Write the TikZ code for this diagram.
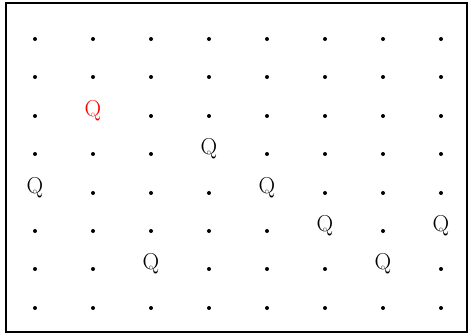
\documentclass[tikz,border=0pt]{standalone}
\begin{document}
\begin{tikzpicture}[x=1pt,y=-1pt,
  dotmark/.style={circle,fill=black,inner sep=0pt,minimum size=4pt},
  queen/.style={inner sep=0pt,font=\fontsize{23}{23}\selectfont,anchor=base,yshift=-1pt}]
\useasboundingbox (0,0) rectangle (472,336);
\draw[line width=1.3pt] (6,3) rectangle (467,332);
\foreach \r/\yy in {1/39,2/77,3/116,4/154,5/193,6/231,7/269,8/308}{
  \foreach \c/\xx in {1/35,2/93,3/151,4/209,5/267,6/325,7/383,8/441}{
    \coordinate (p\r-\c) at (\xx,\yy);
  }
}
\foreach \r/\c in {1/1,1/2,1/3,1/4,1/5,1/6,1/7,1/8,
                  2/1,2/2,2/3,2/4,2/5,2/6,2/7,2/8,
                  3/1,3/3,3/4,3/5,3/6,3/7,3/8,
                  4/1,4/2,4/3,4/5,4/6,4/7,4/8,
                  5/2,5/3,5/4,5/6,5/7,5/8,
                  6/1,6/2,6/3,6/4,6/5,6/7,
                  7/1,7/2,7/4,7/5,7/6,7/8,
                  8/1,8/2,8/3,8/4,8/5,8/6,8/7,8/8}{
  \node[dotmark] (d\r-\c) at (p\r-\c) {};
}
\node[queen,text=red] (q3-2) at (p3-2) {Q};
\node[queen] (q4-4) at (p4-4) {Q};
\node[queen] (q5-1) at (p5-1) {Q};
\node[queen] (q5-5) at (p5-5) {Q};
\node[queen] (q6-6) at (p6-6) {Q};
\node[queen] (q6-8) at (p6-8) {Q};
\node[queen] (q7-3) at (p7-3) {Q};
\node[queen] (q7-7) at (p7-7) {Q};
\end{tikzpicture}
\end{document}
